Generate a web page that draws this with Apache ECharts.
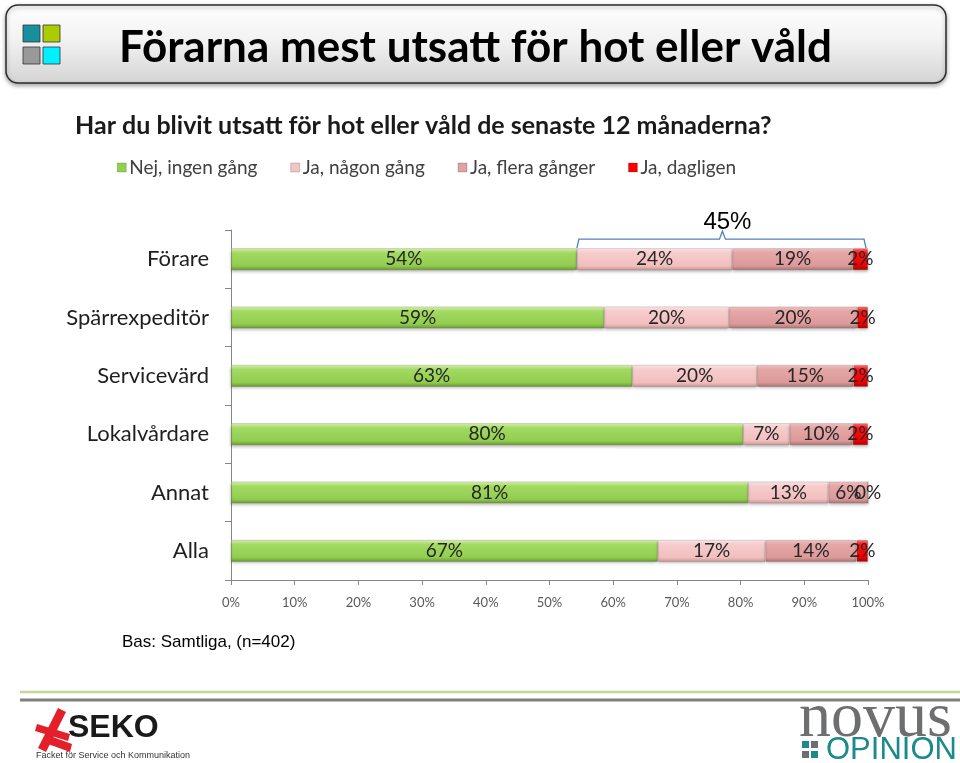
<!DOCTYPE html>
<html>
<head>
<meta charset="utf-8">
<script src="https://cdn.jsdelivr.net/npm/echarts@6/dist/echarts.min.js"></script>
<style>
html,body{margin:0;padding:0;background:#fff;}
#chart{width:960px;height:763px;}
</style>
</head>
<body>
<div id="chart"></div>
<script>
// ---- data ----
var categories = ['Förare', 'Spärrexpeditör', 'Servicevärd', 'Lokalvårdare', 'Annat', 'Alla'];
var seriesNames = ['Nej, ingen gång', 'Ja, någon gång', 'Ja, flera gånger', 'Ja, dagligen'];
var nejIngen   = [54.3, 58.6, 63.0, 80.4, 81.2, 67.0];
var jaNagon    = [24.4, 19.6, 19.6, 7.3, 12.6, 16.9];
var jaFlera    = [18.9, 20.1, 15.1, 9.9, 6.2, 14.3];
var jaDagligen = [2.4, 1.7, 2.3, 2.4, 0, 1.8];
var xTicks = [0, 10, 20, 30, 40, 50, 60, 70, 80, 90, 100];
var bracketLabel = '45%';
var titleText = 'Förarna mest utsatt för hot eller våld';
var subtitleText = 'Har du blivit utsatt för hot eller våld de senaste 12 månaderna?';
var baseText = 'Bas: Samtliga, (n=402)';

var chart = echarts.init(document.getElementById('chart'), null, {renderer: 'canvas'});
var FONT = 'Lato';

function grad(stops) {
  return new echarts.graphic.LinearGradient(0, 0, 0, 1, stops.map(function (s) { return {offset: s[0], color: s[1]}; }));
}
var fills = [
  grad([[0, '#dcf5b4'], [0.22, '#a2da62'], [0.8, '#92cc4f'], [1, '#659a2e']]),
  grad([[0, '#fdeaea'], [0.22, '#f7cccc'], [0.8, '#f2bebe'], [1, '#c99797']]),
  grad([[0, '#f3c6c6'], [0.22, '#e5a6a6'], [0.8, '#dc9a9a'], [1, '#aa7272']]),
  grad([[0, '#ff7a7a'], [0.22, '#ff1010'], [0.8, '#ec0000'], [1, '#a80000']])
];
var legendFills = ['#92d050', '#f2c4c4', '#e0a3a3', '#ff0000'];
var dataArrays = [nejIngen, jaNagon, jaFlera, jaDagligen];

var series = dataArrays.map(function (arr, i) {
  return {
    name: seriesNames[i],
    type: 'bar',
    stack: 'total',
    barWidth: 22,
    data: arr,
    itemStyle: {
      color: fills[i],
      borderColor: 'rgba(90,60,60,0.25)',
      borderWidth: 0.8,
      shadowColor: 'rgba(0,0,0,0.3)',
      shadowBlur: 3,
      shadowOffsetY: 2
    },
    label: {
      show: true,
      position: 'inside',
      fontFamily: FONT,
      fontSize: 19,
      color: '#262626',
      formatter: function (p) { return Math.round(p.value) + '%'; }
    },
    emphasis: {disabled: true}
  };
});

var option = {
  animation: false,
  backgroundColor: '#ffffff',
  legend: {
    data: seriesNames.map(function (n, i) { return {name: n, itemStyle: {color: legendFills[i], borderColor: 'rgba(0,0,0,0.35)', borderWidth: 0.5}}; }),
    left: 112,
    top: 153,
    icon: 'rect',
    itemWidth: 9,
    itemHeight: 9,
    itemGap: 33,
    textStyle: {fontFamily: FONT, fontSize: 19, color: '#404040', padding: [0, 0, 0, -2]},
    selectedMode: false
  },
  grid: {left: 231, right: 92, top: 230, bottom: 183},
  xAxis: {
    type: 'value',
    min: 0,
    max: 100,
    interval: 10,
    axisLine: {show: true, lineStyle: {color: '#868686', width: 1}},
    axisTick: {show: true, length: 5, lineStyle: {color: '#868686'}},
    splitLine: {show: false},
    axisLabel: {
      fontFamily: FONT, fontSize: 13, color: '#595959', margin: 16,
      formatter: function (v) { return xTicks.indexOf(v) >= 0 ? v + '%' : ''; }
    }
  },
  yAxis: {
    type: 'category',
    data: categories,
    inverse: true,
    axisLine: {show: true, lineStyle: {color: '#868686', width: 1}},
    axisTick: {show: true, length: 6, lineStyle: {color: '#868686'}},
    axisLabel: {fontFamily: FONT, fontSize: 22, color: '#1e1e1e', margin: 22}
  },
  series: series
};
chart.setOption(option);

// ---- annotations built from the chart's scales ----
var x0 = chart.convertToPixel({xAxisIndex: 0}, nejIngen[0]);
var x1 = chart.convertToPixel({xAxisIndex: 0}, nejIngen[0] + jaNagon[0] + jaFlera[0] + jaDagligen[0]);
var yc = chart.convertToPixel({yAxisIndex: 0}, categories[0]);
var yTop = yc - 11;
var yLine = yTop - 9;
var xm = (x0 + x1) / 2;

var graphics = [
  // title banner
  {type: 'rect', shape: {x: 6, y: 5, width: 940, height: 78, r: 12},
   style: {fill: grad([[0, '#ffffff'], [0.45, '#f2f2f2'], [1, '#d4d4d4']]), stroke: '#2b2b2b', lineWidth: 1.5,
           shadowColor: 'rgba(0,0,0,0.35)', shadowBlur: 4, shadowOffsetY: 2}},
  {type: 'rect', shape: {x: 23, y: 25, width: 17, height: 17}, style: {fill: '#178f9c', stroke: '#333', lineWidth: 0.8}},
  {type: 'rect', shape: {x: 43, y: 25, width: 17, height: 17}, style: {fill: '#aacc00', stroke: '#333', lineWidth: 0.8}},
  {type: 'rect', shape: {x: 23, y: 47, width: 17, height: 17}, style: {fill: '#999999', stroke: '#333', lineWidth: 0.8}},
  {type: 'rect', shape: {x: 43, y: 47, width: 17, height: 17}, style: {fill: '#00f0ff', stroke: '#333', lineWidth: 0.8}},
  {type: 'text', left: 119, top: 26, style: {text: titleText, font: 'bold 44px Lato', fill: '#000'}},
  // subtitle
  {type: 'text', left: 75, top: 113, style: {text: subtitleText, font: 'bold 25px Lato', fill: '#1a1a1a'}},
  // bracket
  {type: 'polyline', shape: {points: [[x0, yTop], [x0 + 2, yLine], [xm - 3, yLine], [xm, yLine - 8], [xm + 3, yLine], [x1 - 4, yLine], [x1 - 2, yTop]]},
   style: {stroke: '#4f81bd', lineWidth: 1.3, fill: null}},
  {type: 'text', x: xm + 5, y: yLine - 17, style: {text: bracketLabel, font: '24px "Liberation Sans"', fill: '#000', align: 'center', verticalAlign: 'middle'}},
  // base
  {type: 'text', left: 122, top: 634, style: {text: baseText, font: '17px "Liberation Sans"', fill: '#000'}},
  // footer lines
  {type: 'line', shape: {x1: 20, y1: 692, x2: 960, y2: 692}, style: {stroke: '#c4d79b', lineWidth: 2.5}},
  {type: 'line', shape: {x1: 20, y1: 700, x2: 960, y2: 700}, style: {stroke: '#7f7f7f', lineWidth: 3}},
  // SEKO logo
  {type: 'polygon', shape: {points: [[58, 708], [66, 712], [46, 752], [38, 748]]}, style: {fill: '#e3202a'}},
  {type: 'polygon', shape: {points: [[37, 724], [70, 734], [68, 741], [35, 731]]}, style: {fill: '#e3202a'}},
  {type: 'polygon', shape: {points: [[50, 736], [72, 744], [70, 752], [48, 744]]}, style: {fill: '#e3202a'}},
  {type: 'text', left: 68, top: 712, style: {text: 'SEKO', font: 'bold 32px "Liberation Sans Narrow", "Liberation Sans"', fill: '#1a1a1a'}},
  {type: 'text', left: 36, top: 751, style: {text: 'Facket för Service och Kommunikation', font: '9px "Liberation Sans Narrow", "Liberation Sans"', fill: '#333'}},
  // Novus logo
  {type: 'text', left: 799, top: 687, style: {text: 'novus', font: '64px "Liberation Serif"', fill: '#6d6e70'}},
  {type: 'rect', shape: {x: 802, y: 741, width: 7, height: 7}, style: {fill: '#1b8a8c'}},
  {type: 'rect', shape: {x: 811, y: 741, width: 7, height: 7}, style: {fill: '#6d6e70'}},
  {type: 'rect', shape: {x: 802, y: 751, width: 7, height: 7}, style: {fill: '#6d6e70'}},
  {type: 'rect', shape: {x: 811, y: 751, width: 7, height: 7}, style: {fill: '#1b8a8c'}},
  {type: 'text', left: 826, top: 735, style: {text: 'OPINION', font: '31px "Liberation Sans Narrow", "Liberation Sans"', fill: '#1b8a8c'}}
];
chart.setOption({graphic: graphics});
</script>
</body>
</html>
